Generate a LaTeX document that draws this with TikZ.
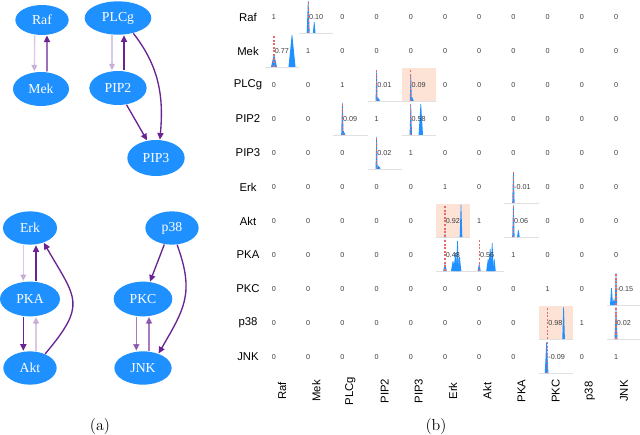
\documentclass[tikz,border=0pt]{standalone}
\usepackage{fontspec}
\newfontfamily\plotfont{Liberation Sans}
\newfontfamily\graphfont{Liberation Serif}
\usetikzlibrary{shapes.geometric,arrows.meta}

\definecolor{nodeblue}{RGB}{30,144,255}
\definecolor{edgepurple}{RGB}{106,36,146}
\definecolor{histblue}{RGB}{30,144,255}
\definecolor{zeroline}{RGB}{232,105,105}
\definecolor{cellshade}{RGB}{253,226,214}
\definecolor{numgray}{RGB}{60,60,60}

\tikzset{every picture/.style={line width=0.75pt}}
\tikzset{
  gnode/.style={ellipse, fill=nodeblue, text=white, inner sep=0pt,
    minimum width=43pt, minimum height=25.5pt,
    font=\graphfont\fontsize{10.3}{12}\selectfont},
  strong/.style={draw=edgepurple, line width=1pt, -{Triangle[length=5pt,width=4.6pt]}},
  weak/.style={strong, opacity=0.25},
  half/.style={strong, opacity=0.6},
  rowlab/.style={font=\plotfont\fontsize{8.5}{10}\selectfont, inner sep=0pt},
  collab/.style={rowlab, rotate=90},
  cellnum/.style={font=\plotfont\fontsize{5.4}{6}\selectfont, text=numgray, inner sep=0pt},
  histnum/.style={cellnum, anchor=west},
  zerodash/.style={draw=zeroline, dash pattern=on 1.5pt off 1.2pt, line width=0.9pt},
  histbase/.style={draw=black!12, line width=0.5pt},
  caption/.style={font=\fontsize{12}{14}\selectfont, inner sep=0pt}
}

% cell (row,col) of the matrix: left edge 265+34.2*col, top 34*row
\newcommand{\shadecell}[2]{\fill[cellshade] ({265+34.2*#2},{34*#1}) rectangle ++(34.2,34);}
\newcommand{\histcell}[3]{%
  \draw[histbase] ({265+34.2*#2},{33+34*#1}) -- ++(34.2,0);
  #3}
% spike: row, col, dx from zero line, height, half width
\newcommand{\histspike}[5]{\fill[histblue] ({274+34.2*#2+#3-#5},{33+34*#1}) -- ({274+34.2*#2+#3-0.3},{33+34*#1-#4}) -- ({274+34.2*#2+#3+0.3},{33+34*#1-#4}) -- ({274+34.2*#2+#3+#5},{33+34*#1}) -- cycle;}
\newcommand{\histmark}[3]{%
  \draw[zerodash] ({274+34.2*#2},{34*#1+2}) -- ({274+34.2*#2},{33+34*#1});
  \node[histnum] (v-#1-#2) at ({274.3+34.2*#2},{17+34*#1}) {#3};}

\begin{document}
\begin{tikzpicture}[x=0.75pt,y=0.75pt,yscale=-1,xscale=1]
\useasboundingbox (0,0) rectangle (640,435);

%%% (a) graph
\node[gnode, minimum width=40pt, minimum height=22.5pt] (Raf) at (42,20) {Raf};
\node[gnode, minimum width=42pt] (Mek) at (41,89) {Mek};
\node[gnode, minimum width=50pt, minimum height=25pt] (PLCg) at (118,18) {PLCg};
\node[gnode] (PIP2) at (118,88) {PIP2};
\node[gnode, minimum height=27pt] (PIP3) at (156,158) {PIP3};

\node[gnode, minimum width=40.5pt, minimum height=25pt] (Erk) at (30,228) {Erk};
\node[gnode, minimum width=45pt, minimum height=26pt] (PKA) at (30,299) {PKA};
\node[gnode, minimum width=40pt, minimum height=25pt] (Akt) at (30,368) {Akt};
\node[gnode, minimum width=40pt, minimum height=25pt] (p38) at (172,228) {p38};
\node[gnode, minimum width=44pt, minimum height=26pt] (PKC) at (143,299) {PKC};
\node[gnode, minimum height=25pt] (JNK) at (143,368) {JNK};

\draw[weak] ([xshift=-5.5pt]Raf.south) -- ([xshift=-5pt]Mek.north);
\draw[strong] ([xshift=4.5pt]Mek.north) -- ([xshift=3.7pt]Raf.south);
\draw[weak] ([xshift=-4.5pt]PLCg.south) -- ([xshift=-4.5pt]PIP2.north);
\draw[strong] ([xshift=4.5pt]PIP2.north) -- ([xshift=4.5pt]PLCg.south);
\draw[strong] (PLCg.-45) to[out=52,in=-85] (PIP3.78);
\draw[strong] (PIP2.-63) -- (PIP3.117);

\draw[weak] ([xshift=-5pt]Erk.south) -- ([xshift=-5pt]PKA.north);
\draw[strong] ([xshift=4.5pt]PKA.north) -- ([xshift=4.5pt]Erk.south);
\draw[strong] ([xshift=-5pt]PKA.south) -- ([xshift=-5pt]Akt.north);
\draw[weak] ([xshift=4.5pt]Akt.north) -- ([xshift=4.5pt]PKA.south);
\draw[strong] (Akt.43) to[out=-50,in=60,looseness=1.5] (Erk.-47);
\draw[strong] (p38.-115) -- (PKC.68);
\draw[strong] (p38.-73) to[out=70,in=-60,looseness=1.2] (JNK.43);
\draw[half] ([xshift=-5pt]PKC.south) -- ([xshift=-5pt]JNK.north);
\draw[half] ([xshift=4.5pt]JNK.north) -- ([xshift=4.5pt]PKC.south);

%%% (b) matrix
\shadecell{2}{4}
\shadecell{6}{5}
\shadecell{9}{8}

% labels
\foreach \name [count=\i from 0] in {Raf,Mek,PLCg,PIP2,PIP3,Erk,Akt,PKA,PKC,p38,JNK}{
  \node[rowlab] (row-\name) at (248,17+34*\i) {\name};
  \node[collab] (col-\name) at (282+34.2*\i,391) {\name};
}

% plain entries, h = histogram cell
\foreach \vals [count=\i from 0] in {
  {1,h,0,0,0,0,0,0,0,0,0},
  {h,1,0,0,0,0,0,0,0,0,0},
  {0,0,1,h,h,0,0,0,0,0,0},
  {0,0,h,1,h,0,0,0,0,0,0},
  {0,0,0,h,1,0,0,0,0,0,0},
  {0,0,0,0,0,1,0,h,0,0,0},
  {0,0,0,0,0,h,1,h,0,0,0},
  {0,0,0,0,0,h,h,1,0,0,0},
  {0,0,0,0,0,0,0,0,1,0,h},
  {0,0,0,0,0,0,0,0,h,1,h},
  {0,0,0,0,0,0,0,0,h,0,1}}{
  \foreach \v [count=\j from 0] in \vals {
    \if h\v\else
      \node[cellnum] (v-\i-\j) at (274+34.2*\j,17+34*\i) {\v};
    \fi
  }
}

% histogram cells
\histcell{0}{1}{\histspike{0}{1}{0}{32}{1.5}\histspike{0}{1}{6}{11}{1.3}}
\histcell{1}{0}{\histspike{1}{0}{0}{12}{3}\histspike{1}{0}{18}{32}{3.5}}
\histcell{2}{3}{\histspike{2}{3}{0}{30}{1}\histspike{2}{3}{1.5}{3}{2}}
\histcell{2}{4}{\histspike{2}{4}{0}{26}{1}\histspike{2}{4}{1}{4}{2}}
\histcell{3}{2}{\histspike{3}{2}{0}{32}{1.2}\histspike{3}{2}{1}{4}{2}}
\histcell{3}{4}{\histspike{3}{4}{0}{30}{1.2}\histspike{3}{4}{10}{31}{2.2}}
\histcell{4}{3}{\histspike{4}{3}{0}{32}{1}\histspike{4}{3}{2}{3}{2}}
\histcell{5}{7}{\histspike{5}{7}{0}{31}{1.2}}
\histcell{6}{5}{\histspike{6}{5}{16}{32}{1.3}\histspike{6}{5}{0}{3}{1}}
\histcell{6}{7}{\histspike{6}{7}{0}{32}{1.2}\histspike{6}{7}{5}{7}{1.3}}
\histcell{7}{5}{\histspike{7}{5}{0}{7}{1.8}\histspike{7}{5}{8}{10}{2}\histspike{7}{5}{10.5}{18}{2}\histspike{7}{5}{12.5}{30}{1.5}\histspike{7}{5}{14.5}{14}{1.8}}
\histcell{7}{6}{\histspike{7}{6}{0}{7}{1.5}\histspike{7}{6}{9}{12}{2}\histspike{7}{6}{11}{22}{2}\histspike{7}{6}{13}{28}{1.5}\histspike{7}{6}{15}{12}{1.5}}
\histcell{8}{10}{\histspike{8}{10}{0}{32}{1.2}\histspike{8}{10}{-4.5}{17}{1.5}\histspike{8}{10}{-2}{6}{1.5}}
\histcell{9}{8}{\histspike{9}{8}{16}{32}{1.3}}
\histcell{9}{10}{\histspike{9}{10}{0}{32}{1.5}}
\histcell{10}{8}{\histspike{10}{8}{-1}{31}{1.8}}

\histmark{0}{1}{0.10}
\histmark{1}{0}{0.77}
\histmark{2}{3}{0.01}
\histmark{2}{4}{0.09}
\histmark{3}{2}{0.09}
\histmark{3}{4}{0.58}
\histmark{4}{3}{0.02}
\histmark{5}{7}{-0.01}
\histmark{6}{5}{0.92}
\histmark{6}{7}{0.06}
\histmark{7}{5}{0.48}
\histmark{7}{6}{0.56}
\histmark{8}{10}{-0.15}
\histmark{9}{8}{0.98}
\histmark{9}{10}{0.02}
\histmark{10}{8}{-0.09}

% captions
\node[caption] (cap-a) at (100,427) {(a)};
\node[caption] (cap-b) at (436,427) {(b)};

\end{tikzpicture}
\end{document}
